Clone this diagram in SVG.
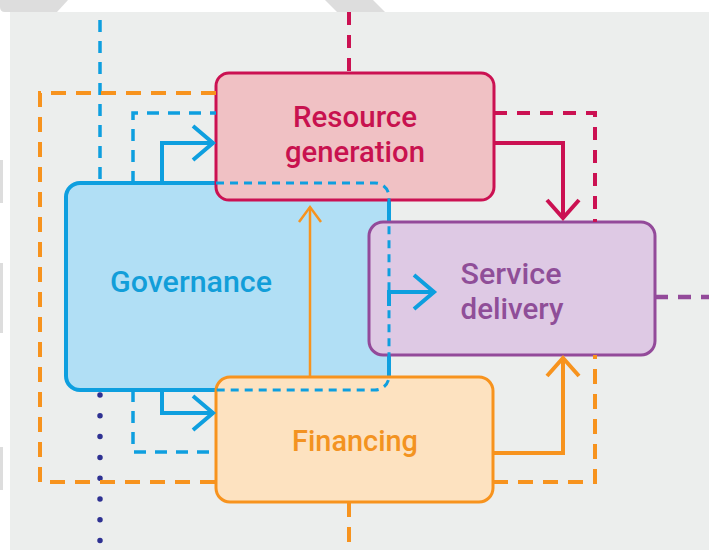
<svg xmlns="http://www.w3.org/2000/svg" width="709" height="550" viewBox="0 0 709 550">
  <style>
    .label { font-family: Roboto, "DejaVu Sans Condensed", "Liberation Sans", sans-serif; font-weight: 500; font-size: 29.5px; text-anchor: middle; }
    .box { stroke-width: 3; }
    .dash-blue { fill: none; stroke: #0E9FDF; stroke-width: 3.5; stroke-dasharray: 12 9; }
    .dash-orange { fill: none; stroke: #F7931E; stroke-width: 4; stroke-dasharray: 15 10; }
    .dash-pink { fill: none; stroke: #CB1152; stroke-width: 4; stroke-dasharray: 13 10; }
    .dash-purple { fill: none; stroke: #934A9A; stroke-width: 4.5; stroke-dasharray: 13 10; }
    .solid { fill: none; stroke-width: 4; stroke-linejoin: miter; }
  </style>
  <defs>
    <marker id="head-blue" markerUnits="userSpaceOnUse" markerWidth="60" markerHeight="60" refX="0" refY="0" orient="auto" overflow="visible">
      <path d="M-20,-17 L0,0 L-20,17" fill="none" stroke="#0E9FDF" stroke-width="4"/>
    </marker>
    <marker id="head-pink" markerUnits="userSpaceOnUse" markerWidth="60" markerHeight="60" refX="0" refY="0" orient="auto" overflow="visible">
      <path d="M-18,-16 L0,0 L-18,16" fill="none" stroke="#CB1152" stroke-width="4"/>
    </marker>
    <marker id="head-orange" markerUnits="userSpaceOnUse" markerWidth="60" markerHeight="60" refX="0" refY="0" orient="auto" overflow="visible">
      <path d="M-18,-16 L0,0 L-18,16" fill="none" stroke="#F7931E" stroke-width="4"/>
    </marker>
    <marker id="head-orange-thin" markerUnits="userSpaceOnUse" markerWidth="60" markerHeight="60" refX="0" refY="0" orient="auto" overflow="visible">
      <path d="M-15,-11 L0,0 L-15,11" fill="none" stroke="#F7931E" stroke-width="2.5"/>
    </marker>
  </defs>

  <!-- page and panel -->
  <rect width="709" height="550" fill="#FFFFFF"/>
  <path d="M0,0 H68 L57,12 H5 Q0,12 0,7 Z" fill="#DDDDDD"/>
  <polygon points="325,0 373,0 385,12 337,12" fill="#DDDDDD"/>
  <rect x="0" y="160" width="3" height="43" fill="#DDDDDD"/>
  <rect x="0" y="263" width="3" height="70" fill="#DDDDDD"/>
  <rect x="0" y="447" width="3" height="43" fill="#DDDDDD"/>
  <rect x="10" y="12" width="699" height="538" fill="#ECEEED"/>

  <!-- Governance (underlying block) -->
  <g id="governance">
    <rect x="66" y="183" width="323" height="207" rx="14" fill="#B1DFF5" stroke="#0E9FDF" stroke-width="4"/>
    <text class="label" x="191" y="292" fill="#129ED9" textLength="162" lengthAdjust="spacingAndGlyphs">Governance</text>
  </g>

  <g id="resource-generation">
    <rect class="box" x="216" y="73" width="278" height="127" rx="13" fill="#F0C1C4" stroke="#CB1152"/>
    <text class="label" fill="#C8124F"><tspan x="355" y="127" textLength="124" lengthAdjust="spacingAndGlyphs">Resource</tspan><tspan x="355" y="162" textLength="140" lengthAdjust="spacingAndGlyphs">generation</tspan></text>
  </g>

  <g id="service-delivery">
    <rect class="box" x="369" y="222" width="286" height="133" rx="14" fill="#DEC9E4" stroke="#934A9A"/>
    <text class="label" fill="#8F4E98"><tspan x="511" y="284" textLength="101" lengthAdjust="spacingAndGlyphs">Service</tspan><tspan x="512" y="319" textLength="103" lengthAdjust="spacingAndGlyphs">delivery</tspan></text>
  </g>

  <g id="financing">
    <rect class="box" x="216" y="377" width="277" height="125" rx="14" fill="#FDE2C0" stroke="#F7931E"/>
    <text class="label" x="355" y="451" fill="#F39321" textLength="126" lengthAdjust="spacingAndGlyphs">Financing</text>
  </g>

  <!-- Governance outline where it overlaps the other blocks -->
  <g id="governance-outline">
    <path d="M216,183 H375 A14,14 0 0 1 389,197 V376 A14,14 0 0 1 375,390 H216" fill="none" stroke="#0E9FDF" stroke-width="3" stroke-dasharray="8 6"/>
  </g>

  <g id="connectors">
    <!-- governance links -->
    <path class="dash-blue" d="M100,20 V183"/>
    <path class="dash-blue" d="M133,183 V113 H216" stroke-dasharray="13 10"/>
    <path class="solid" stroke="#0E9FDF" d="M162,183 V143 H213" marker-end="url(#head-blue)"/>
    <path class="dash-blue" d="M133,390 V452 H216" stroke-dasharray="13 10"/>
    <path class="solid" stroke="#0E9FDF" d="M162,390 V413 H213" marker-end="url(#head-blue)"/>
    <path class="solid" stroke="#0E9FDF" d="M389,306 V292 H434" marker-end="url(#head-blue)"/>
    <path d="M100,395 V550" fill="none" stroke="#2E3192" stroke-width="5.5" stroke-linecap="round" stroke-dasharray="0 20.8"/>

    <!-- financing links -->
    <path class="dash-orange" d="M216,93 H40 V482 H216"/>
    <path fill="none" stroke="#F7931E" stroke-width="2.5" d="M310,377 V207" marker-end="url(#head-orange-thin)"/>
    <path class="solid" stroke="#F7931E" d="M493,453 H563 V358" marker-end="url(#head-orange)"/>
    <path class="dash-orange" d="M493,482 H595 V355"/>
    <path class="dash-orange" d="M349,502 V550"/>

    <!-- resource generation links -->
    <path class="dash-pink" d="M349,12 V73"/>
    <path class="dash-pink" d="M494,113 H595 V222"/>
    <path class="solid" stroke="#CB1152" d="M494,143 H563 V218" marker-end="url(#head-pink)"/>

    <!-- service delivery outflow -->
    <path class="dash-purple" d="M655,297 H709"/>
  </g>
</svg>
